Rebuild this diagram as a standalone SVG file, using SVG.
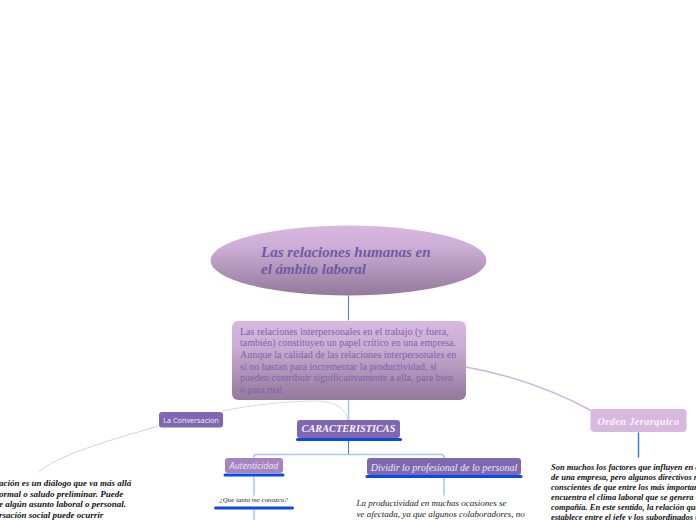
<svg xmlns="http://www.w3.org/2000/svg" width="696" height="520" viewBox="0 0 696 520">
<style>
text{font-family:"Liberation Serif",serif;white-space:pre}
.sans{font-family:"Open Sans",sans-serif}
.bb{font-weight:bold;font-style:italic;font-size:8.5px;fill:#111}
.bl{font-weight:bold;font-style:italic;font-size:9px;fill:#111}
.it{font-style:italic;font-size:9px;fill:#222}
.bar{fill:#0a4be8}
.c{fill:none;stroke-linecap:round}
.blue{stroke:#3f7bf0;stroke-width:1}
.light{stroke:#a9c4f7;stroke-width:1.5}
</style>
<defs>
<linearGradient id="g" x1="0" y1="0" x2="0" y2="1"><stop offset="0" stop-color="#d9b8e0"/><stop offset="0.3" stop-color="#cdaed6"/><stop offset="1" stop-color="#94799b"/></linearGradient>
</defs>
<rect width="696" height="520" fill="#fff"/>
<g id="connectors">
<path class="c blue" d="M348.500 296V320"/>
<path class="c" stroke="#cdb6de" stroke-width="1.500" d="M466 367C510 375 550 388 592 411"/>
<path class="c" stroke="#dcd5ec" stroke-width="1" d="M222 411C250 405 290 401 315 401C335 401 345 408 348 420"/>
<path class="c" stroke="#d5cfe8" stroke-width="1" d="M159 426C110 440 55 456 39 472"/>
<path class="c light" d="M348.500 400V420"/>
<path class="c blue" d="M348.500 441V454"/>
<path class="c light" d="M254 458V456Q254 454.500 256 454.500H441Q444 454.500 444 457V458"/>
<path class="c light" d="M444 478V495"/>
<path class="c light" d="M254 477V495"/>
<path class="c light" d="M254 510V520"/>
<path class="c" stroke="#3f7bf0" stroke-width="1.500" d="M638.500 433V457"/>
</g>
<g id="node-root">
<ellipse cx="348.500" cy="260.500" rx="138" ry="35" fill="url(#g)"/>
<text x="261" y="257" font-size="15" font-weight="bold" font-style="italic" fill="#6d5aa3">Las relaciones humanas en</text>
<text x="261" y="274" font-size="15" font-weight="bold" font-style="italic" fill="#6d5aa3">el ámbito laboral</text>
</g>
<g id="node-intro">
<rect x="232" y="321" width="234" height="79" rx="6" fill="url(#g)"/>
<g font-size="10" fill="#7a64ad">
<text x="240" y="334.500">Las relaciones interpersonales en el trabajo (y fuera,</text>
<text x="240" y="346.200">también) constituyen un papel crítico en una empresa.</text>
<text x="240" y="357.900">Aunque la calidad de las relaciones interpersonales en</text>
<text x="240" y="369.600">sí no bastan para incrementar la productividad, sí</text>
<text x="240" y="381.300">pueden contribuir significativamente a ella, para bien</text>
<text x="240" y="393">o para mal.</text>
</g>
</g>
<g id="node-conversacion">
<rect x="159" y="412" width="64" height="15.500" rx="3" fill="#7f68b0"/>
<text class="sans" x="191" y="422.500" font-size="7.300" fill="#f2eef8" text-anchor="middle">La Conversacion</text>
</g>
<g id="node-caracteristicas">
<rect x="297" y="420" width="103" height="18" rx="3" fill="#7f68b0"/>
<rect class="bar" x="296" y="438" width="106" height="3" rx="1.500"/>
<text x="348.500" y="432" font-size="10.300" font-weight="bold" font-style="italic" fill="#f4f0fa" text-anchor="middle">CARACTERISTICAS</text>
</g>
<g id="node-autenticidad">
<rect x="225" y="458" width="58" height="15" rx="3" fill="#a584c0"/>
<rect class="bar" x="223.500" y="473.500" width="61" height="3" rx="1.500"/>
<text class="sans" x="254" y="469" font-size="8.800" font-style="italic" fill="#f0e8f5" text-anchor="middle">Autenticidad</text>
</g>
<g id="node-dividir">
<rect x="367" y="458" width="154" height="17" rx="3" fill="#7f68b0"/>
<rect class="bar" x="365.500" y="475" width="157" height="3" rx="1.500"/>
<text x="444" y="470.500" font-size="10" font-style="italic" fill="#eee8f5" text-anchor="middle">Dividir lo profesional de lo personal</text>
</g>
<g id="node-orden">
<rect x="590.500" y="409" width="96" height="23" rx="4" fill="#d9b8e0"/>
<text x="638.500" y="424.500" font-size="10.300" font-weight="bold" font-style="italic" letter-spacing="0.400" fill="#f8f2fa" text-anchor="middle">Orden Jerarquico</text>
</g>
<g id="node-conocer">
<rect class="bar" x="214" y="506.500" width="80" height="3" rx="1.500"/>
<text x="253.500" y="502" font-size="6.900" font-style="italic" fill="#222" text-anchor="middle">¿Que tanto me conozco?</text>
</g>
<g id="node-texto-conversacion">
<text class="bl" x="-1" y="486">ación es un diálogo que va más allá</text>
<text class="bl" x="-1" y="496.500">ormal o saludo preliminar. Puede</text>
<text class="bl" x="-1" y="507">e algún asunto laboral o personal.</text>
<text class="bl" x="-1" y="518">rsación social puede ocurrir</text>
</g>
<g id="node-texto-dividir">
<text class="it" x="356.500" y="506">La productividad en muchas ocasiones se</text>
<text class="it" x="356.500" y="516.500">ve afectada, ya que algunos colaboradores, no</text>
</g>
<g id="node-texto-orden">
<text class="bb" x="551" y="470">Son muchos los factores que influyen en el</text>
<text class="bb" x="551" y="480">de una empresa, pero algunos directivos no</text>
<text class="bb" x="551" y="490">conscientes de que entre los más importantes</text>
<text class="bb" x="551" y="500">encuentra el clima laboral que se genera en</text>
<text class="bb" x="551" y="510">compañía. En este sentido, la relación que</text>
<text class="bb" x="551" y="520">establece entre el jefe y los subordinados es</text>
</g>
</svg>
